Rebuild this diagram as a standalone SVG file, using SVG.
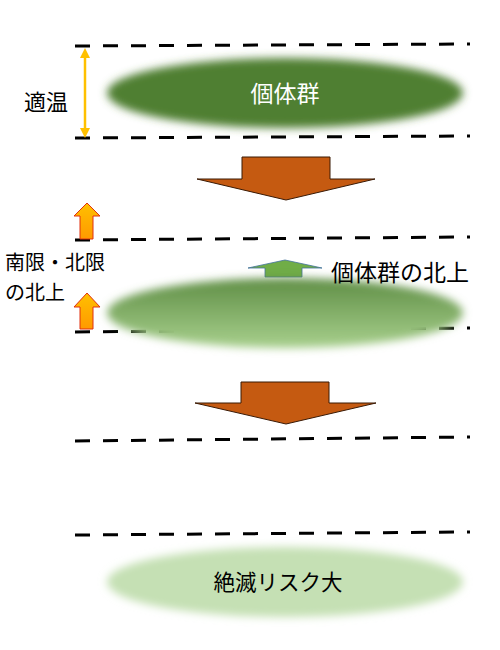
<svg xmlns="http://www.w3.org/2000/svg" width="500" height="650" viewBox="0 0 500 650">
<style>
.dash{stroke:#000;stroke-width:3;stroke-dasharray:15 13;fill:none}
.t{font-family:"Noto Sans CJK JP","Liberation Sans",sans-serif;font-size:22px;fill:#000}
.big{stroke:#3a1a05;stroke-width:1;fill:#c55a11}
.up{fill:url(#og);stroke:#e03010;stroke-width:1}
</style>
<defs>
<filter id="blur" x="-10%" y="-30%" width="120%" height="160%"><feGaussianBlur stdDeviation="4"/></filter>
<linearGradient id="g2" x1="0" y1="0" x2="0" y2="1">
<stop offset="0" stop-color="#5f8e45"/><stop offset="1" stop-color="#a8d08d"/>
</linearGradient>
<linearGradient id="og" x1="0" y1="0" x2="0" y2="1">
<stop offset="0" stop-color="#ffc000"/><stop offset="1" stop-color="#ff9a00"/>
</linearGradient>
<marker id="ah" viewBox="0 0 10 10" refX="5" refY="5" markerWidth="4" markerHeight="4" orient="auto-start-reverse"><path d="M0,0 L10,5 L0,10 z" fill="#ffc000"/></marker>
</defs>
<g id="connectors">
<line class="dash" x1="75" y1="46" x2="470" y2="44"/>
<line class="dash" x1="75" y1="138" x2="470" y2="136"/>
<line class="dash" x1="75" y1="240" x2="470" y2="237"/>
<line class="dash" x1="75" y1="332" x2="470" y2="328"/>
<line class="dash" x1="75" y1="441" x2="470" y2="437"/>
<line class="dash" x1="75" y1="535" x2="470" y2="532"/>
<line x1="85" y1="53" x2="85" y2="133" stroke="#ffc000" stroke-width="2.5" marker-start="url(#ah)" marker-end="url(#ah)"/>
<polygon class="big" points="242,157 330,157 330,179 375,179 286,200 197,179 242,179"/>
<polygon class="big" points="241,382 329,382 329,403 376,403 286,424 195,403 241,403"/>
<polygon class="up" points="87,203 100,216 93,216 93,239 80,239 80,216 74,216"/>
<polygon class="up" points="87,293 100,307 93,307 93,329 80,329 80,307 74,307"/>
<polygon points="285,260 322,268 302,268 302,277 265,277 265,268 248,268" fill="#70ad47" stroke="#41719c" stroke-width="0.8"/>
</g>
<g id="node1">
<ellipse cx="285" cy="93" rx="178" ry="35" fill="#507f30" filter="url(#blur)"/>
<text x="285" y="102" text-anchor="middle" class="t" style="fill:#fff;font-size:23px">個体群</text>
</g>
<g id="node2">
<ellipse cx="285" cy="313" rx="178" ry="35" fill="url(#g2)" filter="url(#blur)"/>
</g>
<g id="node3">
<ellipse cx="285" cy="582" rx="178" ry="35" fill="#c5e0b4" filter="url(#blur)"/>
<text x="278" y="590" text-anchor="middle" class="t" style="font-size:21.5px">絶滅リスク大</text>
</g>
<g id="labels">
<text x="24" y="110" class="t">適温</text>
<text x="5" y="270" class="t" style="font-size:20px">南限・北限</text>
<text x="5" y="300" class="t" style="font-size:20px">の北上</text>
<text x="331" y="281" class="t" style="font-size:23px">個体群の北上</text>
</g>
</svg>
